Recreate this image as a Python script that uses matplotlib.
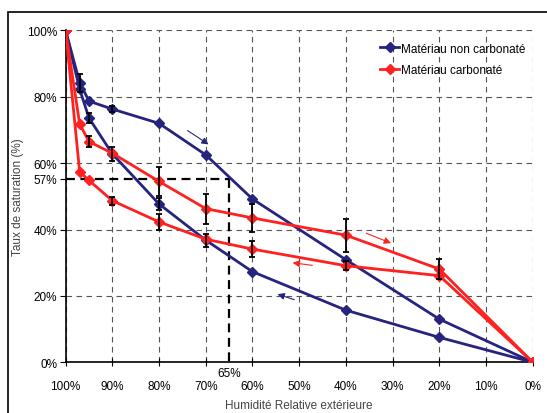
import matplotlib
matplotlib.use("Agg")
import matplotlib.pyplot as plt
from matplotlib.patches import Rectangle

plt.rcParams['font.family'] = ['Liberation Sans', 'DejaVu Sans']

# RH values (%) for each branch
rh = [100, 97, 95, 90, 80, 70, 60, 40, 20, 0]

# Non carbonated material (blue): upper and lower branches
blue_upper = [100, 84.3, 78.7, 76.3, 72.0, 62.5, 49.2, 30.9, 13.0, 0]
blue_lower = [100, 82.3, 73.6, 62.8, 47.7, 36.8, 27.3, 15.7, 7.5, 0]
blue_upper_err = [0, 2.7, 0, 1.0, 0, 0, 0, 0, 0, 0]
blue_lower_err = [0, 0, 1.5, 2.0, 1.8, 2.0, 0, 0, 0, 0]

# Carbonated material (red)
red_upper = [100, 71.8, 66.5, 63.0, 54.5, 46.3, 43.5, 38.3, 28.1, 0]
red_lower = [100, 57.4, 54.8, 48.7, 42.3, 37.1, 34.1, 29.1, 26.1, 0]
red_upper_err = [0, 0, 1.7, 0, 4.5, 4.5, 4.2, 5.0, 3.0, 0]
red_lower_err = [0, 0, 0, 1.2, 2.3, 0, 2.5, 1.3, 0, 0]

x_ticks = [100, 90, 80, 70, 60, 50, 40, 30, 20, 10, 0]
y_ticks = [0, 20, 40, 60, 80, 100]
ref_rh = 65
ref_rh_label = '65%'
ref_sat_y = 55.3          # where the dashed guide is drawn in the figure
ref_sat_label = '57%'

blue = '#26247f'
red = '#ff2020'
grid_c = '#555555'

fig = plt.figure(figsize=(5.47, 4.14), dpi=100)
ax = fig.add_axes([0.120, 0.1225, 0.854, 0.8015])

# outer chart frame
fig.patches.append(Rectangle((8 / 547, -0.05), 1.2, 1 - 13 / 414 + 0.05,
                             transform=fig.transFigure, fill=False,
                             edgecolor='black', lw=1.2))

ax.set_xlim(100, 0)
ax.set_ylim(0, 100)

# grid
for xv in x_ticks:
    ax.axvline(xv, color=grid_c, ls=(0, (5, 4)), lw=0.8, zorder=0)
for yv in y_ticks[1:]:
    ax.axhline(yv, color=grid_c, ls=(0, (5, 4)), lw=0.8, zorder=0)

# reference dashed lines
ax.plot([100, ref_rh], [ref_sat_y, ref_sat_y], color='black', ls=(0, (4, 2.5)), lw=1.6, zorder=3)
ax.plot([ref_rh, ref_rh], [ref_sat_y, 0], color='black', ls=(0, (4, 2.5)), lw=1.6, zorder=3)

mk = dict(marker='D', markersize=5, lw=2)
ax.plot(rh, blue_upper, color=blue, label='Matériau non carbonaté', zorder=4, **mk)
ax.plot(rh, blue_lower, color=blue, zorder=4, **mk)
ax.plot(rh, red_upper, color=red, label='Matériau carbonaté', zorder=4, **mk)
ax.plot(rh, red_lower, color=red, zorder=4, **mk)

eb = dict(fmt='none', ecolor='black', elinewidth=1.3, capsize=2.5, capthick=1.3, zorder=5)
for ys, es in [(blue_upper, blue_upper_err), (blue_lower, blue_lower_err),
               (red_upper, red_upper_err), (red_lower, red_lower_err)]:
    xs = [x for x, e in zip(rh, es) if e > 0]
    yv = [y for y, e in zip(ys, es) if e > 0]
    ee = [e for e in es if e > 0]
    ax.errorbar(xs, yv, yerr=ee, **eb)

# direction arrows
arr = [((74.4, 70.3), (68.9, 65.2), blue),
       ((50.5, 18.6), (55.2, 20.8), blue),
       ((36.2, 39.2), (29.8, 35.6), red),
       ((46.6, 29.1), (52.0, 30.1), red)]
for (x0, y0), (x1, y1), c in arr:
    ax.annotate('', xy=(x1, y1), xytext=(x0, y0),
                arrowprops=dict(arrowstyle='-|>', color=c, lw=0.8,
                                mutation_scale=10), zorder=6)

# axes styling
for s in ['top', 'right']:
    ax.spines[s].set_visible(False)
ax.spines['left'].set_linewidth(1.2)
ax.spines['bottom'].set_linewidth(1.2)

ax.set_xticks(x_ticks)
ax.set_xticklabels([f'{v}%' for v in x_ticks], fontsize=8.5)
yt = y_ticks + [ref_sat_y]
ax.set_yticks(yt)
ax.set_yticklabels([f'{v}%' for v in y_ticks] + [ref_sat_label], fontsize=8.5)
ax.tick_params(axis='x', direction='inout', length=6, pad=10)
ax.tick_params(axis='y', direction='out', length=4, pad=2)

ax.text(ref_rh, -1.5, ref_rh_label, ha='center', va='top', fontsize=8.5)

ax.set_ylabel('Taux de saturation (%)', fontsize=8.5, color='#444444', labelpad=2)
ax.set_xlabel('Humidité Relative extérieure', fontsize=8.5, color='#444444', labelpad=5)

leg = ax.legend(loc='upper right', bbox_to_anchor=(1.0, 0.985), frameon=False,
                fontsize=8.5, handlelength=1.6, handletextpad=0.2,
                borderaxespad=0.2, labelspacing=0.8)

fig.savefig('out.png', dpi=100)
